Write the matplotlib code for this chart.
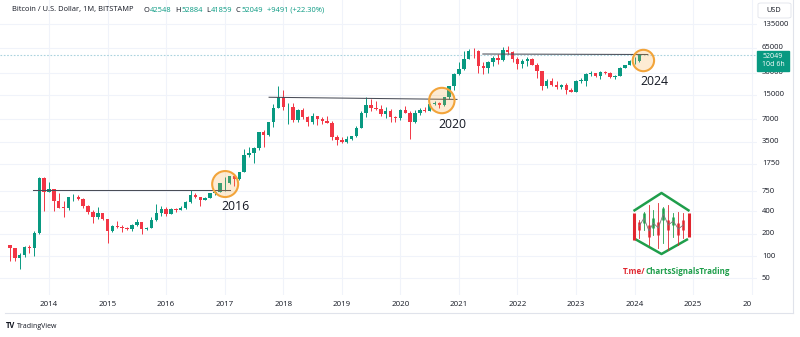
import numpy as np
import matplotlib
matplotlib.use('Agg')
import matplotlib.pyplot as plt
from matplotlib.patches import Rectangle, FancyBboxPatch
from matplotlib.lines import Line2D

plt.rcParams['font.family'] = ['Open Sans', 'DejaVu Sans']

W, H = 800, 337
UP = '#089981'
DOWN = '#f23645'
TXT = '#131722'
GRID = '#f0f3fa'

# monthly BTC/USD candles, May 2013 .. Feb 2024 (month 0 = Jan 2014)
first_month = -8
opens = [139, 129, 95, 104, 131, 128, 204, 1130,
         735, 800, 550, 450, 448, 625, 635, 585, 480, 387, 338, 378,
         320, 217, 254, 244, 236, 230, 263, 284, 230, 236, 311, 378,
         430, 368, 437, 416, 448, 531, 673, 624, 573, 608, 700, 742,
         963, 968, 1190, 1080, 1350, 2300, 2480, 2870, 4730, 4340, 6450, 9950,
         13860, 10200, 10330, 6925, 9250, 7490, 6390, 7730, 7030, 6620, 6320, 4040,
         3690, 3440, 3820, 4110, 5330, 8560, 10820, 10080, 9600, 8290, 9150, 7550,
         7190, 9350, 8550, 6410, 8630, 9450, 9140, 11340, 11650, 10780, 13800, 19700,
         28990, 33110, 45200, 58800, 57700, 37300, 35040, 41460, 47100, 43800, 61300, 57000,
         46200, 38480, 43170, 45500, 37650, 31800, 19900, 23300, 20050, 19420, 20500, 17170,
         16540, 23130, 23150, 28470, 29250, 27200, 30480, 29230, 25930, 26970, 34650, 37720,
         42280, 42548]
highs = [140, 130, 110, 136, 142, 215, 1163, 1163,
         995, 810, 718, 545, 630, 680, 660, 600, 495, 415, 457, 385,
         320, 265, 300, 262, 248, 268, 317, 286, 245, 335, 502, 467,
         460, 448, 440, 467, 550, 780, 704, 625, 630, 720, 755, 980,
         1150, 1210, 1290, 1380, 2790, 3000, 2920, 4740, 4980, 6470, 11400, 19700,
         17200, 11790, 11700, 9770, 10000, 7780, 8500, 7760, 7420, 7680, 6560, 4250,
         4070, 4200, 4120, 5620, 9080, 13880, 13200, 12300, 10950, 10370, 9520, 7750,
         9580, 10500, 9200, 9460, 10070, 10380, 11440, 12480, 12060, 14100, 19860, 29300,
         41900, 58330, 61780, 64900, 59500, 41300, 42300, 50500, 52900, 67000, 69000, 59100,
         47900, 45800, 48200, 47400, 39800, 31900, 24600, 25200, 22800, 21000, 21500, 18400,
         23950, 25250, 29200, 31000, 29800, 31400, 31800, 30200, 27500, 35200, 38400, 44700,
         48970, 52884]
lows = [85, 87, 66, 96, 110, 100, 196, 400,
        730, 400, 440, 340, 420, 555, 565, 445, 365, 275, 320, 305,
        152, 212, 236, 214, 226, 220, 253, 198, 225, 236, 300, 350,
        350, 365, 394, 414, 436, 520, 605, 470, 570, 605, 677, 740,
        750, 940, 890, 1070, 1350, 2200, 1830, 2700, 2970, 4110, 5500, 9900,
        9400, 5970, 6450, 6430, 7030, 5750, 6080, 5880, 6100, 6200, 3650, 3130,
        3350, 3390, 3730, 4090, 5330, 7500, 9100, 9350, 7710, 7300, 6510, 6430,
        6860, 8470, 3850, 6160, 8110, 8920, 8970, 10990, 9880, 10540, 13200, 17600,
        28150, 32300, 44950, 47000, 30000, 28800, 29300, 37300, 39600, 43300, 53300, 42000,
        32950, 34300, 37200, 37700, 25400, 17600, 18800, 19600, 18150, 18200, 15480, 16300,
        16500, 21400, 19600, 26900, 25800, 24800, 28900, 25300, 24900, 26550, 34100, 37600,
        38500, 41859]
closes = [129, 95, 104, 131, 128, 204, 1130, 735,
          800, 550, 450, 448, 625, 635, 585, 480, 387, 338, 378, 320,
          217, 254, 244, 236, 230, 263, 284, 230, 236, 311, 378, 430,
          368, 437, 416, 448, 531, 673, 624, 573, 608, 700, 742, 963,
          968, 1190, 1080, 1350, 2300, 2480, 2870, 4730, 4340, 6450, 9950, 13860,
          10200, 10330, 6925, 9250, 7490, 6390, 7730, 7030, 6620, 6320, 4040, 3690,
          3440, 3820, 4110, 5330, 8560, 10820, 10080, 9600, 8290, 9150, 7550, 7190,
          9350, 8550, 6410, 8630, 9450, 9140, 11340, 11650, 10780, 13800, 19700, 28990,
          33110, 45200, 58800, 57700, 37300, 35040, 41460, 47100, 43800, 61300, 57000, 46200,
          38480, 43170, 45500, 37650, 31800, 19900, 23300, 20050, 19420, 20500, 17170, 16540,
          23130, 23150, 28470, 29250, 27200, 30480, 29230, 25930, 26970, 34650, 37720, 42280,
          42548, 52049]

last_price = 52049
price_ticks = [50, 100, 200, 400, 750, 1750, 3500, 7000, 15000, 30000, 65000, 135000]
years = list(range(2014, 2026))

# resistance lines (month, price) start -> end
res_lines = [((-3.2, 785), (37.1, 785)),
             ((45.1, 13900), (83.6, 13000)),
             ((88.9, 53300), (122.7, 52500))]
# highlighted breakouts
circle_x = [36.1, 80.5, 121.8]
circle_y = [937, 12560, 43560]
circle_r = [13, 12.7, 10.7]
note_text = ['2016', '2020', '2024']
note_x = [38.3, 82.7, 124.0]
note_y = [463, 6000, 22540]


def fx(px):
    return px / W


def fy(py):
    return 1 - py / H


fig = plt.figure(figsize=(8, 3.37), dpi=100)
fig.patch.set_facecolor('white')
ax = fig.add_axes([0, fy(295), fx(757), 295 / H])
ax.set_yscale('log')
ax.set_xlim(-10.04, 145.08)
ax.set_ylim(29.8, 285600)
for s in ax.spines.values():
    s.set_visible(False)
ax.set_xticks([])
ax.set_yticks([])
ax.minorticks_off()

for p in price_ticks:
    ax.axhline(p, color=GRID, lw=0.8, zorder=0)
for yr in years + [2026]:
    ax.axvline((yr - 2014) * 12, color=GRID, lw=0.8, zorder=0)

months = np.arange(first_month, first_month + len(opens))
o = np.array(opens, float)
h = np.array(highs, float)
l = np.array(lows, float)
c = np.array(closes, float)
cols = np.where(c >= o, UP, DOWN)
bottom = np.minimum(o, c)
height = np.maximum(np.abs(c - o), bottom * 0.015)
ax.vlines(months, l, h, colors=cols, lw=0.7, zorder=2)
ax.bar(months, height, bottom=bottom, width=0.7, color=cols, lw=0, zorder=3)

ax.axhline(last_price, color='#a9d3de', lw=0.8, ls=(0, (1.5, 1.5)), zorder=1)

for (x0, y0), (x1, y1) in res_lines:
    ax.plot([x0, x1], [y0, y1], color='#4a4d57', lw=0.75, zorder=4)

sizes = [(2 * r * 72 / 100) ** 2 for r in circle_r]
ax.scatter(circle_x, circle_y, s=sizes, facecolor=(0.97, 0.66, 0.22, 0.22),
           edgecolor='#f2a43a', linewidth=1.5, zorder=5)
for t, x, y in zip(note_text, note_x, note_y):
    ax.text(x, y, t, fontsize=8.8, color=TXT, ha='center', va='center', zorder=6)

# price axis labels
for p in price_ticks:
    ax.text(1.0066, p, str(p), transform=ax.get_yaxis_transform(), fontsize=5.5,
            color=TXT, ha='left', va='center', clip_on=False)
for yr in years:
    ax.text((yr - 2014) * 12, -0.031, str(yr), transform=ax.get_xaxis_transform(),
            fontsize=5.7, color=TXT, ha='center', va='center', clip_on=False)
ax.text(142.2, -0.031, '20', transform=ax.get_xaxis_transform(),
        fontsize=5.7, color=TXT, ha='left', va='center', clip_on=False)

# frame lines
fig.add_artist(Line2D([fx(5), fx(793)], [fy(313), fy(313)], color='#e0e3eb', lw=0.8))
fig.add_artist(Line2D([fx(793), fx(793)], [fy(0), fy(313)], color='#e0e3eb', lw=0.8))

# last price tag and currency box
fig.add_artist(Rectangle((fx(757), fy(70.7)), fx(32), 20 / H, color=UP, zorder=10))
fig.text(fx(773), fy(56), str(last_price), color='white', fontsize=5, ha='center', va='center', zorder=11)
fig.text(fx(773), fy(65), '10d 6h', color='white', fontsize=5, ha='center', va='center', zorder=11)
fig.add_artist(FancyBboxPatch((fx(758), fy(18)), fx(33), 15 / H,
                              boxstyle='round,pad=0,rounding_size=0.004',
                              fc='white', ec='#e0e3eb', lw=0.6, zorder=10))
fig.text(fx(774), fy(11), 'USD', color=TXT, fontsize=5.3, ha='center', va='center', zorder=11)

renderer = fig.canvas.get_renderer()


def pieces(x, y, parts, size, weight='normal', gap=0.0):
    for s, col in parts:
        t = fig.text(fx(x), fy(y), s, color=col, fontsize=size, ha='left', va='center',
                     fontweight=weight)
        x += t.get_window_extent(renderer).width + gap


# header legend
pieces(12.3, 10, [('Bitcoin / U.S. Dollar, 1M, BITSTAMP', TXT)], 5.4)
legend_items = [(143.3, 'O', '42548'), (175, 'H', '52884'), (206, 'L', '41859'),
                (236, 'C', '52049')]
for x, k, v in legend_items:
    pieces(x, 10, [(k, TXT), (v, UP)], 5.4, gap=0.8)
pieces(266.7, 10, [('+9491 (+22.30%)', UP)], 5.4)

# footer
pieces(6, 326, [('TV', TXT)], 5.5, 'bold')
pieces(17, 326, [('TradingView', TXT)], 5)

# watermark
pieces(623, 271, [('T.me/', '#e0262f'), ('ChartsSignalsTrading', '#1f9e4b')], 5.8, 'bold', gap=0.3)

lg = fig.add_axes([fx(626), fy(258), fx(68), 70 / H])
lg.set_xlim(626, 694)
lg.set_ylim(258, 188)
lg.axis('off')
LG_G, LG_R = '#1f9e4b', '#e0262f'
lg.plot([633.5, 661.5, 689.5], [211, 193, 211], color=LG_G, lw=1.8, solid_capstyle='butt')
lg.plot([635, 661.5, 688], [239, 254, 239], color=LG_G, lw=1.8, solid_capstyle='butt')
lg.plot([633.5, 633.5], [213, 240], color=LG_R, lw=2.2, solid_capstyle='butt')
lg.plot([689.3, 689.3], [213, 237], color=LG_R, lw=2.2, solid_capstyle='butt')
lx = [639.3, 644, 649, 653.3, 658.3, 663.3, 668.3, 673.3, 678.3, 683.3]
lwt = [220, 212, 205, 210, 203, 207, 205, 213, 212, 213]
lwb = [238, 230, 245, 235, 248, 243, 250, 237, 245, 238]
lbt = [222, 213, 225, 218, 222, 208, 220, 217, 223, 220]
lbb = [230, 223, 237, 228, 235, 220, 230, 225, 235, 230]
lcol = [LG_R, LG_G, LG_R, LG_G, LG_R, LG_G, LG_R, LG_G, LG_R, LG_R]
for x, a, b, d, e, col in zip(lx, lwt, lwb, lbt, lbb, lcol):
    lg.plot([x, x], [a, b], color=col, lw=0.6)
    lg.plot([x, x], [d, e], color=col, lw=1.8, solid_capstyle='butt')
lg.plot(lx, [226, 218, 231, 223, 228, 214, 225, 221, 229, 225], color='#7a7a7a', lw=0.6)

fig.savefig('out.png', dpi=100, facecolor='white')
